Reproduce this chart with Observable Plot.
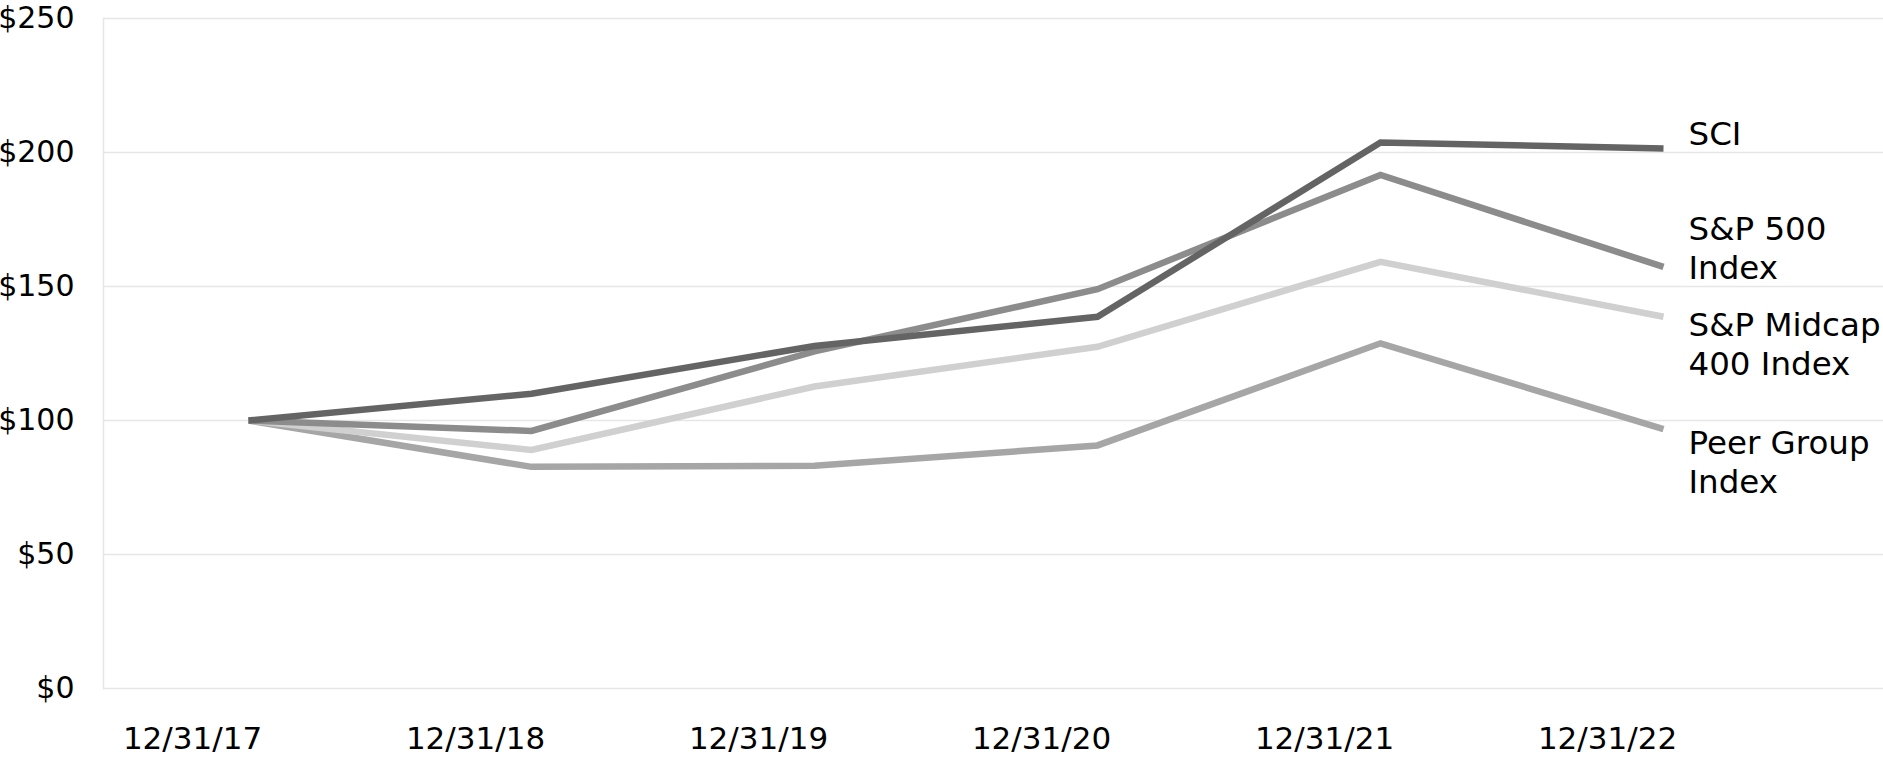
<!DOCTYPE html>
<html>
<head>
<meta charset="utf-8">
<script src="https://cdn.jsdelivr.net/npm/d3@7"></script>
<script src="https://cdn.jsdelivr.net/npm/@observablehq/plot@0.6"></script>
<style>
  html, body { margin: 0; padding: 0; background: #fff; }
  svg { display: block; }
</style>
</head>
<body>
<div id="chart"></div>
<script>
const dates = ["12/31/17", "12/31/18", "12/31/19", "12/31/20", "12/31/21", "12/31/22"];
const sci = [100, 110, 127.8, 138.7, 203.7, 201.5];
const sp500 = [100, 96.1, 125.8, 149, 191.6, 157.3];
const midcap = [100, 89, 112.7, 127.5, 159.2, 138.7];
const peer = [100, 82.7, 83.1, 90.7, 128.8, 96.8];
const yTicks = [0, 50, 100, 150, 200, 250];

const seriesNames = ["SCI", "S&P 500\nIndex", "S&P Midcap\n400 Index", "Peer Group\nIndex"];
const seriesValues = [sci, sp500, midcap, peer];
const colors = ["#646464", "#8c8c8c", "#d0d0d0", "#a6a6a6"];
const labelDy = [-16, -20, 26, 32];

const rows = seriesNames.flatMap((name, i) =>
  dates.map((d, j) => ({series: name, date: d, value: seriesValues[i][j]}))
);

// Draw order: Peer, Midcap, S&P 500, SCI (SCI on top)
const drawOrder = [3, 2, 1, 0];

const marks = [
  Plot.gridY(yTicks, {stroke: "#e6e6e6", strokeOpacity: 1, strokeWidth: 1.5}),
  Plot.frame({anchor: "left", stroke: "#e6e6e6", strokeWidth: 1.5}),
  Plot.axisY(yTicks, {tickSize: 0, tickPadding: 29, fontSize: 30, tickFormat: d => "$" + d}),
  Plot.axisX({tickSize: 0, tickPadding: 38, fontSize: 31, dx: -56})
];

for (const i of drawOrder) {
  const data = rows.filter(r => r.series === seriesNames[i]);
  marks.push(Plot.line(data, {
    x: "date", y: "value",
    stroke: colors[i], strokeWidth: 6.5,
    strokeLinejoin: "miter", strokeLinecap: "butt", strokeMiterlimit: 10
  }));
}

seriesNames.forEach((name, i) => {
  const last = rows.filter(r => r.series === name).slice(-1);
  marks.push(Plot.text(last, {
    x: "date", y: "value", text: "series",
    textAnchor: "start", dx: 25, dy: labelDy[i],
    fontSize: 32.5, lineHeight: 1.2, fill: "#000"
  }));
});

const chart = Plot.plot({
  width: 1883,
  height: 758,
  marginLeft: 103,
  marginRight: 0,
  marginTop: 18,
  marginBottom: 70,
  style: {fontFamily: "DejaVu Sans", color: "#000", background: "#fff", overflow: "visible"},
  x: {type: "point", domain: dates, range: [246, 1664], padding: 0, label: null},
  y: {domain: [0, 250], label: null},
  marks
});

document.getElementById("chart").appendChild(chart);
</script>
</body>
</html>
